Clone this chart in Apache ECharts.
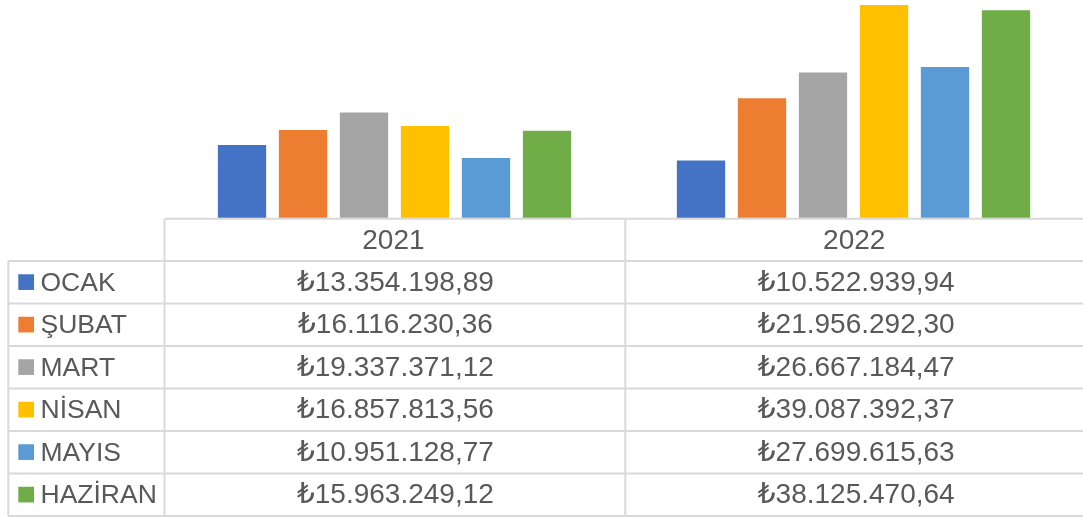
<!DOCTYPE html>
<html>
<head>
<meta charset="utf-8">
<script src="https://cdn.jsdelivr.net/npm/echarts@6/dist/echarts.min.js"></script>
<style>
html,body{margin:0;padding:0;background:#fff;}
#chart{width:1083px;height:517px;}
</style>
</head>
<body>
<div id="chart"></div>
<script>
var years = ['2021', '2022'];
var months = ['OCAK', 'ŞUBAT', 'MART', 'NİSAN', 'MAYIS', 'HAZİRAN'];
var values2021 = [13354198.89, 16116230.36, 19337371.12, 16857813.56, 10951128.77, 15963249.12];
var values2022 = [10522939.94, 21956292.30, 26667184.47, 39087392.37, 27699615.63, 38125470.64];
var colors = ['#4472C4', '#ED7D31', '#A5A5A5', '#FFC000', '#5B9BD5', '#70AD47'];

function fmtTL(v) {
  var fixed = v.toFixed(2);
  var parts = fixed.split('.');
  var intPart = parts[0].replace(/\B(?=(\d{3})+(?!\d))/g, '.');
  return '\u20BA' + intPart + ',' + parts[1];
}

var chart = echarts.init(document.getElementById('chart'), null, {renderer: 'canvas'});

var gridLeft = 165, colW = 460.8, gridTop = -2, plotH = 219.7;
var tableTop = 218.8, headerH = 42.2, rowH = 42.5, tableLeft = 8.3;
var lineColor = '#D9D9D9', textColor = '#595959';
var font = '28px "Liberation Sans", "DejaVu Sans", sans-serif';
var labelFont = '26.5px "Liberation Sans", "DejaVu Sans", sans-serif';

var series = months.map(function (m, i) {
  return {
    name: m,
    type: 'bar',
    data: [values2021[i], values2022[i]],
    barWidth: 48.3,
    barGap: '26.3%',
    itemStyle: {color: colors[i]},
    silent: true
  };
});

var g = [];
var rowsTop = tableTop + headerH;
var tableBottom = rowsTop + rowH * months.length;
var rightX = gridLeft + colW * years.length;
g.push({type: 'line', shape: {x1: gridLeft - 0.5, y1: tableTop, x2: rightX, y2: tableTop}, style: {stroke: lineColor, lineWidth: 2}});
for (var r = 0; r <= months.length; r++) {
  var y = rowsTop + r * rowH;
  g.push({type: 'line', shape: {x1: tableLeft, y1: y, x2: rightX, y2: y}, style: {stroke: lineColor, lineWidth: 2}});
}
g.push({type: 'line', shape: {x1: tableLeft, y1: rowsTop, x2: tableLeft, y2: tableBottom}, style: {stroke: lineColor, lineWidth: 2}});
for (var c = 0; c <= years.length; c++) {
  var x = gridLeft - 0.5 + c * colW;
  g.push({type: 'line', shape: {x1: x, y1: tableTop, x2: x, y2: tableBottom}, style: {stroke: lineColor, lineWidth: 2}});
}
years.forEach(function (yr, c) {
  g.push({type: 'text', style: {x: gridLeft + (c + 0.5) * colW - 2, y: tableTop + headerH / 2 + 1, text: yr, textAlign: 'center', textVerticalAlign: 'middle', font: font, fill: textColor}});
});
var allVals = [values2021, values2022];
months.forEach(function (m, r) {
  var cy = rowsTop + (r + 0.5) * rowH + 1;
  g.push({type: 'rect', shape: {x: 18.3, y: cy - 9, width: 15.7, height: 15.7}, style: {fill: colors[r]}});
  g.push({type: 'text', style: {x: 40.5, y: cy, text: m, textAlign: 'left', textVerticalAlign: 'middle', font: labelFont, fill: textColor}});
  allVals.forEach(function (arr, c) {
    g.push({type: 'text', style: {x: gridLeft + (c + 0.5) * colW, y: cy, text: fmtTL(arr[r]), textAlign: 'center', textVerticalAlign: 'middle', font: font, fill: textColor}});
  });
});

chart.setOption({
  animation: false,
  backgroundColor: '#fff',
  grid: {left: gridLeft, top: gridTop, width: colW * years.length, height: plotH},
  xAxis: {type: 'category', data: years, show: false},
  yAxis: {type: 'value', min: 0, max: 40000000, show: false},
  series: series,
  graphic: g
});
</script>
</body>
</html>
